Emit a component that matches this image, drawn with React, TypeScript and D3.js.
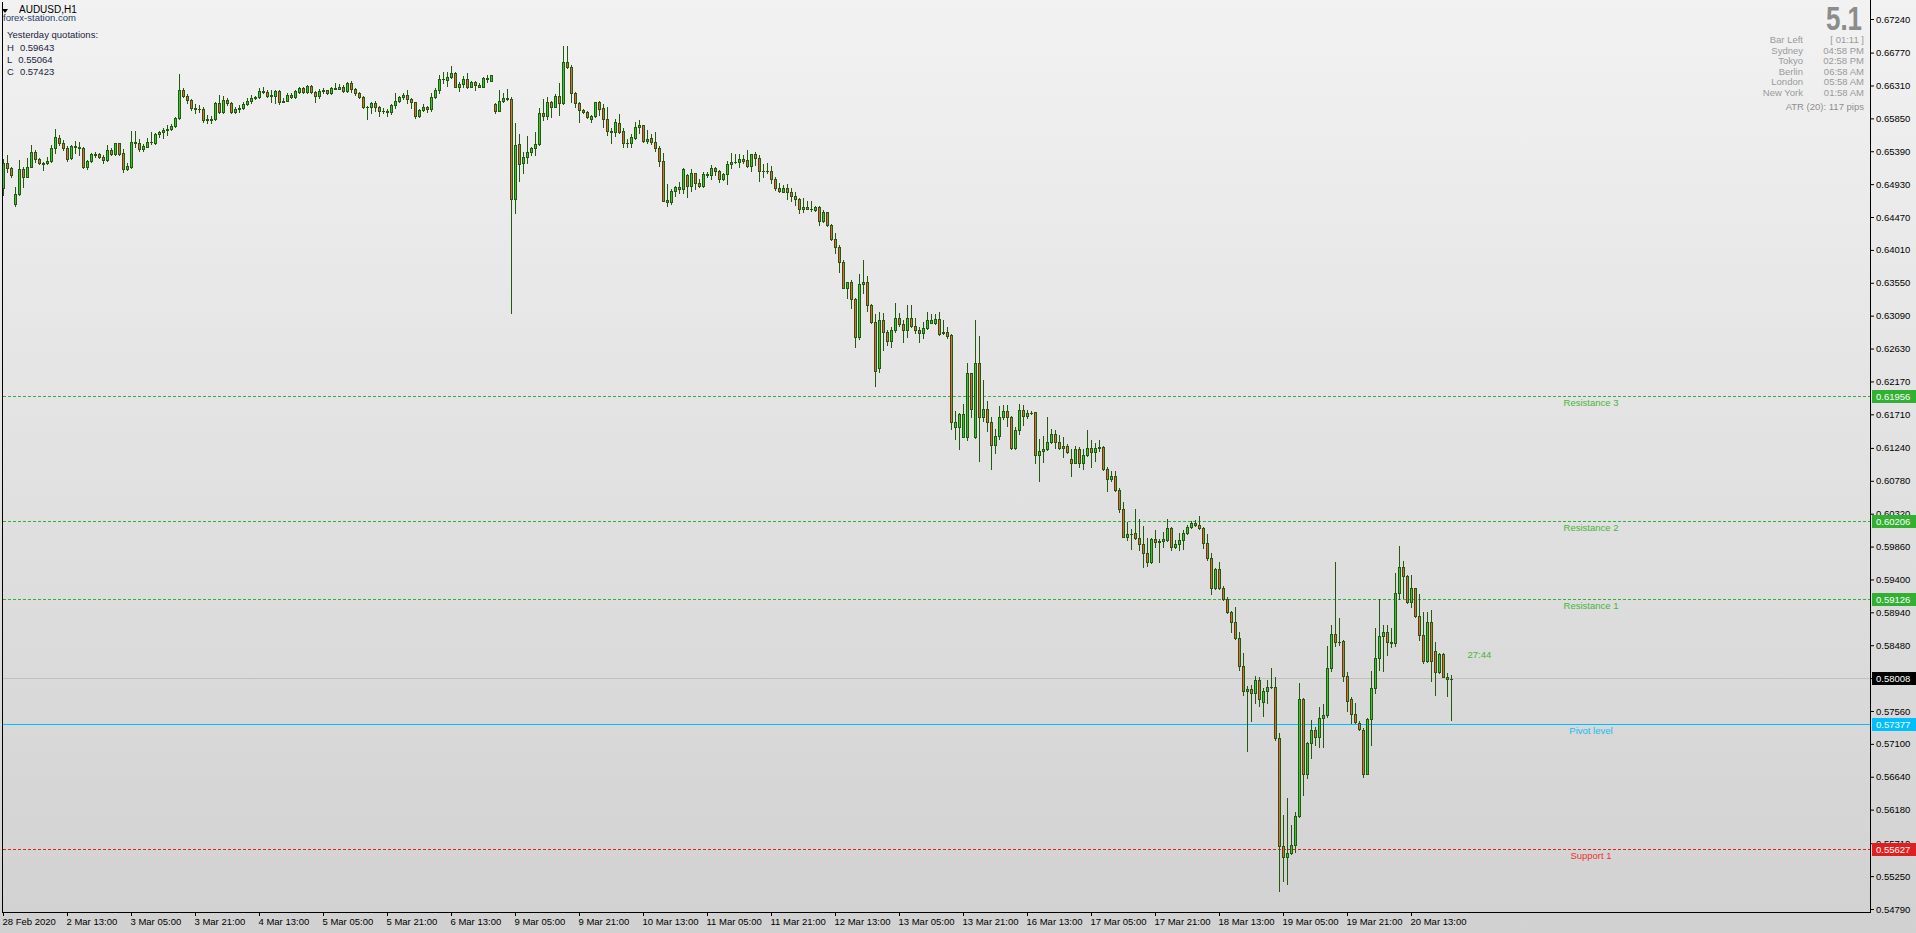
import { useEffect, useRef } from 'react';
import * as d3 from 'd3';

// [open, high, low, close] in price * 1e5
type Candle = [number, number, number, number];

const feb28: Candle[] = [
  [64871, 65281, 64777, 65220], [65220, 65337, 65104, 65151], [65151, 65174, 65025, 65057],
];

const weekMar02: Candle[] = [
  [64652, 64894, 64624, 64787], [64787, 65267, 64777, 65141], [65141, 65174, 64894, 65034], [65034, 65290, 65025, 65174],
  [65174, 65477, 65165, 65374], [65374, 65407, 65244, 65276], [65276, 65290, 65206, 65220], [65220, 65244, 65127, 65215],
  [65220, 65314, 65206, 65253], [65253, 65477, 65244, 65430], [65430, 65701, 65370, 65584], [65570, 65617, 65477, 65500],
  [65500, 65547, 65407, 65430], [65430, 65468, 65258, 65281], [65290, 65477, 65281, 65463], [65463, 65538, 65360, 65454],
  [65454, 65524, 65337, 65430], [65430, 65444, 65151, 65174], [65174, 65267, 65137, 65253], [65253, 65360, 65244, 65346],
  [65346, 65384, 65314, 65340], [65346, 65360, 65290, 65314], [65314, 65337, 65230, 65267], [65267, 65477, 65258, 65407],
  [65407, 65430, 65337, 65351], [65346, 65510, 65337, 65500], [65500, 65510, 65337, 65346], [65360, 65416, 65104, 65137],
  [65137, 65220, 65127, 65183], [65174, 65673, 65151, 65514], [65514, 65673, 65444, 65500], [65500, 65561, 65398, 65416],
  [65416, 65491, 65398, 65463], [65454, 65570, 65444, 65524], [65524, 65654, 65491, 65514], [65500, 65640, 65491, 65631],
  [65631, 65677, 65594, 65663], [65663, 65710, 65570, 65687], [65687, 65757, 65617, 65696], [65696, 65766, 65687, 65747],
  [65747, 65864, 65724, 65850], [65850, 66470, 65841, 66246], [66246, 66270, 66153, 66167], [66167, 66190, 66069, 66106],
  [66106, 66120, 65967, 65990], [65990, 66046, 65920, 65976], [65976, 66036, 65943, 65980], [65985, 66013, 65803, 65827],
  [65827, 65897, 65789, 65836], [65836, 65883, 65780, 65832], [65836, 66083, 65827, 66069], [66069, 66176, 65929, 65943],
  [65943, 66162, 65929, 66106], [66106, 66130, 66036, 66060], [66060, 66083, 65929, 65943], [65943, 66013, 65920, 65976],
  [65976, 66036, 65943, 65999], [65999, 66083, 65976, 66050], [66050, 66130, 66036, 66097], [66097, 66176, 66069, 66139],
  [66139, 66162, 66116, 66144], [66144, 66279, 66130, 66232], [66232, 66293, 66200, 66225], [66225, 66246, 66144, 66162],
  [66162, 66246, 66083, 66176], [66162, 66246, 66069, 66232], [66232, 66246, 66046, 66083], [66083, 66130, 66083, 66097],
  [66097, 66200, 66093, 66176], [66176, 66200, 66130, 66144], [66144, 66246, 66130, 66232], [66225, 66293, 66209, 66270],
  [66270, 66293, 66200, 66214], [66214, 66316, 66200, 66302], [66302, 66316, 66200, 66214], [66214, 66237, 66083, 66162],
  [66162, 66256, 66130, 66237], [66230, 66270, 66200, 66246], [66246, 66246, 66186, 66209], [66209, 66284, 66190, 66270],
  [66270, 66349, 66256, 66265], [66265, 66330, 66256, 66293], [66293, 66316, 66223, 66237], [66237, 66363, 66223, 66349],
  [66349, 66377, 66223, 66260], [66260, 66270, 66176, 66200], [66200, 66223, 66139, 66153], [66153, 66162, 65990, 66013],
  [66013, 66027, 65841, 66010], [66013, 66083, 65920, 66060], [66060, 66093, 65957, 66004], [66004, 66023, 65883, 65948],
  [65948, 65990, 65929, 65957], [65957, 65976, 65888, 65934], [65934, 66051, 65911, 66037], [66037, 66200, 65999, 66097],
  [66097, 66163, 66083, 66144], [66144, 66200, 66125, 66172], [66172, 66247, 66069, 66116], [66116, 66130, 65999, 66074],
  [66074, 66083, 65860, 65888], [65888, 65976, 65874, 65967], [65967, 66046, 65957, 66004], [66004, 66023, 65943, 65976],
  [65976, 66200, 65957, 66144], [66144, 66270, 66130, 66247], [66247, 66456, 66200, 66396], [66396, 66503, 66340, 66400],
  [66385, 66503, 66307, 66424], [66424, 66582, 66410, 66480], [66480, 66494, 66293, 66293], [66293, 66363, 66237, 66326],
  [66326, 66442, 66293, 66396], [66396, 66480, 66270, 66293], [66293, 66377, 66284, 66354], [66354, 66377, 66247, 66316],
  [66316, 66349, 66284, 66293], [66293, 66424, 66284, 66410], [66396, 66456, 66363, 66410], [66377, 66456, 66373, 66452],
];

const weekMar09: Candle[] = [
  [66051, 66069, 65929, 65957], [65957, 66247, 65957, 66093], [66093, 66200, 66083, 66130], [66130, 66256, 66107, 66121],
  [66116, 66144, 63122, 64717], [64717, 65790, 64531, 65472], [65486, 65626, 64978, 65207], [65221, 65384, 65090, 65314],
  [65314, 65603, 65230, 65375], [65375, 65454, 65337, 65435], [65435, 65654, 65337, 65491], [65491, 65990, 65472, 65920],
  [65920, 66116, 65827, 65888], [65888, 66153, 65836, 66074], [66074, 66097, 65874, 66013], [66013, 66191, 66004, 66163],
  [66163, 66340, 65897, 66060], [66060, 66862, 66051, 66634], [66634, 66862, 66550, 66564], [66564, 66596, 66083, 66200],
  [66200, 66214, 66013, 66060], [66060, 66083, 65804, 65967], [65967, 65981, 65920, 65934], [65934, 65957, 65850, 65874],
  [65836, 65897, 65804, 65883], [65883, 66083, 65874, 66074], [66083, 66097, 65897, 65976], [65990, 66051, 65734, 65836],
  [65836, 66004, 65617, 65673], [65673, 65710, 65500, 65664], [65654, 65836, 65603, 65794], [65780, 65911, 65640, 65664],
  [65673, 65710, 65445, 65500], [65500, 65561, 65445, 65500], [65500, 65631, 65454, 65584], [65580, 65804, 65556, 65724],
  [65724, 65827, 65650, 65757], [65752, 65757, 65514, 65538], [65538, 65687, 65510, 65566], [65580, 65631, 65491, 65514],
  [65514, 65654, 65398, 65431], [65431, 65463, 65183, 65258], [65258, 65361, 64698, 64698], [64708, 64932, 64628, 64675],
  [64675, 64857, 64647, 64834], [64834, 64908, 64764, 64885], [64885, 64964, 64810, 64857], [64857, 65160, 64801, 65137],
  [65057, 65067, 64754, 64908], [64908, 65141, 64838, 65081], [65081, 65090, 64862, 64950], [64950, 64997, 64894, 64908],
  [64908, 65104, 64894, 65067], [65067, 65095, 65034, 65062], [65062, 65193, 64997, 65151], [65151, 65165, 65057, 65113],
  [65113, 65127, 64964, 64997], [64997, 65081, 64988, 65067], [65067, 65258, 64932, 65207], [65207, 65361, 65160, 65244],
  [65244, 65351, 65220, 65244], [65244, 65351, 65174, 65276], [65276, 65342, 65220, 65258], [65267, 65407, 65165, 65188],
  [65188, 65351, 65118, 65346], [65346, 65384, 65197, 65290], [65290, 65337, 64978, 65118], [65118, 65211, 65034, 65118],
  [65118, 65220, 65090, 65113], [65113, 65183, 64941, 64997], [64997, 65025, 64847, 64880], [64880, 64941, 64824, 64838],
  [64824, 64917, 64815, 64871], [64871, 64931, 64722, 64815], [64815, 64871, 64698, 64768], [64768, 64815, 64638, 64717],
  [64717, 64731, 64521, 64586], [64586, 64731, 64544, 64614], [64614, 64694, 64577, 64586], [64586, 64694, 64558, 64582],
  [64567, 64624, 64558, 64614], [64614, 64628, 64358, 64409], [64409, 64568, 64395, 64535], [64535, 64544, 64344, 64358],
  [64358, 64372, 64148, 64157], [64157, 64241, 63971, 64055], [64055, 64078, 63705, 63845], [63845, 63868, 63472, 63481],
  [63481, 63565, 63332, 63556], [63556, 63588, 63192, 63318], [63318, 63332, 62656, 62786], [62786, 63668, 62758, 63528],
  [63528, 63868, 63402, 63565], [63565, 63644, 63159, 63234], [63234, 63253, 62992, 62996], [62996, 63113, 62110, 62311],
  [62353, 63145, 62306, 63029], [63029, 63122, 62609, 62856], [62856, 62889, 62679, 62740], [62740, 62936, 62656, 62884],
  [62884, 63262, 62866, 63052], [63052, 63122, 62950, 62968], [62968, 63029, 62726, 62894], [62894, 63239, 62796, 63052],
  [63052, 63239, 62936, 62950], [62950, 63052, 62842, 62884], [62884, 62936, 62726, 62852], [62852, 63006, 62772, 62912],
  [62912, 63136, 62903, 63024], [62992, 63113, 62982, 63024], [62992, 63108, 62973, 63038], [63038, 63136, 62819, 62838],
  [62850, 63029, 62830, 62866], [62866, 62936, 62772, 62805], [62815, 62828, 61504, 61597], [61527, 61756, 61360, 61597],
  [61527, 61733, 61224, 61709], [61397, 61849, 61388, 61709], [61397, 62423, 61350, 62283], [62283, 62292, 61677, 61779],
];

const weekMar16: Candle[] = [
  [61388, 63029, 61374, 62423], [62423, 62805, 61061, 61667], [61667, 62190, 61621, 61779], [61779, 61900, 61481, 61597],
  [61597, 61667, 60945, 61276], [61276, 61504, 61173, 61406], [61406, 61826, 61369, 61667], [61667, 61835, 61649, 61756],
  [61756, 61835, 61551, 61667], [61667, 61691, 61224, 61243], [61243, 61532, 61224, 61485], [61485, 61854, 61439, 61765],
  [61765, 61835, 61560, 61686], [61686, 61770, 61663, 61723], [61723, 61756, 61709, 61733], [61737, 61747, 61033, 61136],
  [61136, 61369, 60781, 61196], [61196, 61406, 61047, 61224], [61224, 61677, 61210, 61322], [61322, 61504, 61313, 61439],
  [61439, 61485, 61243, 61322], [61322, 61415, 61220, 61234], [61266, 61397, 61117, 61234], [61266, 61290, 61173, 61187],
  [61084, 61220, 60851, 61033], [61033, 61271, 61024, 61224], [61224, 61257, 60977, 61024], [61024, 61220, 60945, 61140],
  [61140, 61490, 61126, 61234], [61234, 61350, 60977, 61178], [61178, 61304, 61061, 61243], [61243, 61350, 61201, 61257],
  [61250, 61262, 60930, 60940], [60940, 60977, 60641, 60800], [60800, 60921, 60781, 60846], [60846, 60921, 60641, 60651],
  [60651, 60674, 60347, 60389], [60389, 60487, 59988, 59998], [59998, 60208, 59951, 60030], [60030, 60100, 59821, 60035],
  [60044, 60380, 59965, 59984], [59984, 60240, 59811, 59890], [59890, 60147, 59578, 59765], [59765, 59974, 59587, 59648],
  [59648, 59974, 59625, 59965], [59965, 60091, 59858, 59918], [59918, 59960, 59648, 59937], [59937, 60068, 59849, 59960],
  [59951, 60240, 59942, 60114], [60114, 60128, 59811, 59858], [59858, 59951, 59835, 59890], [59890, 60044, 59811, 59951],
  [59951, 60091, 59821, 60054], [60054, 60161, 60035, 60128], [60128, 60222, 60114, 60184], [60184, 60231, 60147, 60156],
  [60156, 60287, 60100, 60114], [60114, 60128, 59835, 59904], [59904, 60035, 59671, 59695], [59695, 59765, 59196, 59284],
  [59284, 59555, 59270, 59541], [59541, 59648, 59270, 59284], [59284, 59308, 59112, 59126], [59126, 59158, 58925, 58949],
  [58949, 58963, 58669, 58799], [58799, 59018, 58566, 58585], [58585, 58669, 58133, 58193], [58193, 58366, 57783, 57839],
  [57839, 57909, 57004, 57867], [57867, 57923, 57419, 57806], [57806, 58049, 57666, 57993], [57993, 58039, 57634, 57722],
  [57690, 57876, 57494, 57839], [57839, 57993, 57666, 57899], [57899, 58156, 57876, 57895], [57899, 58030, 57153, 57177],
  [57177, 57247, 55046, 55675], [55675, 56104, 55186, 55512], [55512, 56337, 55139, 55568], [55568, 55964, 55554, 55684],
  [55684, 56151, 55591, 56095], [56095, 57946, 56081, 57722], [57722, 57746, 56384, 56678], [56678, 57130, 56617, 57107],
  [57107, 57433, 56897, 57293], [57293, 57340, 57083, 57191], [57191, 57620, 57060, 57456], [57456, 57657, 57060, 57498],
  [57498, 58468, 57480, 58156], [58156, 58762, 58123, 58631], [58631, 59639, 58473, 58520], [58520, 58855, 58482, 58530],
  [58538, 58552, 57983, 58053], [58053, 58105, 57564, 57704], [57727, 57759, 57386, 57512], [57512, 57666, 57386, 57410],
  [57386, 57419, 57293, 57303], [57293, 57317, 56631, 56678], [56678, 57456, 56678, 57442], [57442, 58123, 57083, 57876],
  [57876, 58715, 57806, 58305], [58305, 59121, 58133, 58608], [58608, 58762, 58123, 58669], [58669, 58762, 58342, 58520],
  [58530, 58715, 58459, 58506], [58506, 59485, 58473, 59205], [59205, 59867, 59121, 59578], [59578, 59657, 59135, 59447],
  [59447, 59461, 59065, 59088], [59088, 59461, 59018, 59275], [59275, 59284, 58879, 58893], [58893, 59196, 58552, 58622],
  [58622, 58949, 58235, 58263], [58263, 58939, 58249, 58799], [58799, 58972, 57983, 58263], [58403, 58529, 57783, 58109],
  [58109, 58375, 58086, 58356], [58356, 58366, 58030, 58039], [58039, 58086, 57769, 58002], [58002, 58063, 57433, 58008],
];

const xTickLabels = [
  '28 Feb 2020', '2 Mar 13:00', '3 Mar 05:00', '3 Mar 21:00', '4 Mar 13:00', '5 Mar 05:00', '5 Mar 21:00',
  '6 Mar 13:00', '9 Mar 05:00', '9 Mar 21:00', '10 Mar 13:00', '11 Mar 05:00', '11 Mar 21:00', '12 Mar 13:00',
  '13 Mar 05:00', '13 Mar 21:00', '16 Mar 13:00', '17 Mar 05:00', '17 Mar 21:00', '18 Mar 13:00', '19 Mar 05:00',
  '19 Mar 21:00', '20 Mar 13:00',
];
const barsPerXTick = 16;

const yTicks = [
  0.67240, 0.66770, 0.66310, 0.65850, 0.65390, 0.64930, 0.64470, 0.64010, 0.63550, 0.63090, 0.62630, 0.62170,
  0.61710, 0.61240, 0.60780, 0.60320, 0.59860, 0.59400, 0.58940, 0.58480, 0.58020, 0.57560, 0.57100, 0.56640,
  0.56180, 0.55710, 0.55250, 0.54790,
];

const levelNames = ['Resistance 3', 'Resistance 2', 'Resistance 1', 'Pivot level', 'Support 1'];
const levelValues = [0.61956, 0.60206, 0.59126, 0.57377, 0.55627];
const currentPrice = 0.58008;
const countdown = '27:44';

const symbolTitle = 'AUDUSD,H1';
const brand = 'forex-station.com';
const yesterdayTitle = 'Yesterday quotations:';
const yesterdayLabels = ['H', 'L', 'C'];
const yesterdayValues = ['0.59643', '0.55064', '0.57423'];

const spreadValue = '5.1';
const sessionNames = ['Bar Left', 'Sydney', 'Tokyo', 'Berlin', 'London', 'New York'];
const sessionTimes = ['[ 01:11 ]', '04:58 PM', '02:58 PM', '06:58 AM', '05:58 AM', '01:58 AM'];
const atrText = 'ATR (20): 117 pips';

const W = 1916;
const H = 933;
const FONT = '"Liberation Sans", Arial, sans-serif';

export default function App() {
  const svgRef = useRef<SVGSVGElement>(null);

  useEffect(() => {
    document.body.style.margin = '0';
    if (!svgRef.current) return;
    const svg = d3.select(svgRef.current);
    svg.selectAll('*').remove();

    const candles = [...feb28, ...weekMar02, ...weekMar09, ...weekMar16].map(([o, h, l, c], i) => ({
      i, o: o / 1e5, h: h / 1e5, l: l / 1e5, c: c / 1e5,
    }));

    const axisX = 1870.5;
    const axisY = 912.5;

    const x = d3.scaleBand<number>()
      .domain(d3.range(candles.length))
      .range([1.5, 1.5 + 4 * candles.length]);
    const y = d3.scaleLinear().domain([0.54790, 0.67240]).range([909, 19]);
    const cx = (i: number) => (x(i) || 0) + x.bandwidth() / 2;

    // background gradient
    const defs = svg.append('defs');
    const grad = defs.append('linearGradient').attr('id', 'bg').attr('x1', 0).attr('y1', 0).attr('x2', 0).attr('y2', 1);
    grad.append('stop').attr('offset', '0%').attr('stop-color', '#f2f2f2');
    grad.append('stop').attr('offset', '100%').attr('stop-color', '#d1d1d1');
    svg.append('rect').attr('width', W).attr('height', H).attr('fill', 'url(#bg)');

    // horizontal levels
    const levelColor = (name: string) =>
      name.startsWith('Resistance') ? '#33b033' : name.startsWith('Pivot') ? '#00bfff' : '#e02020';
    const levelY = (v: number) => Math.floor(y(v)) + 0.5;

    svg.append('line')
      .attr('x1', 3).attr('x2', axisX).attr('y1', levelY(currentPrice)).attr('y2', levelY(currentPrice))
      .attr('stroke', '#bfbfbf');

    svg.selectAll('.level')
      .data(levelNames)
      .enter()
      .append('line')
      .attr('class', 'level')
      .attr('x1', 3).attr('x2', axisX)
      .attr('y1', (_, k) => levelY(levelValues[k]))
      .attr('y2', (_, k) => levelY(levelValues[k]))
      .attr('stroke', d => levelColor(d))
      .attr('stroke-dasharray', d => (d.startsWith('Pivot') ? null : '3,2'));

    // candles
    const outline = '#235a10';
    const g = svg.append('g');
    g.selectAll('.wick')
      .data(candles)
      .enter()
      .append('line')
      .attr('class', 'wick')
      .attr('x1', d => cx(d.i)).attr('x2', d => cx(d.i))
      .attr('y1', d => Math.round(y(Math.max(d.h, d.o, d.c))))
      .attr('y2', d => Math.round(y(Math.min(d.l, d.o, d.c))) + 1)
      .attr('stroke', outline);

    candles.forEach(d => {
      const top = Math.round(y(Math.max(d.o, d.c)));
      const bot = Math.round(y(Math.min(d.o, d.c)));
      if (bot - top < 1) {
        g.append('line')
          .attr('x1', cx(d.i) - 1.5).attr('x2', cx(d.i) + 1.5)
          .attr('y1', top + 0.5).attr('y2', top + 0.5)
          .attr('stroke', outline);
      } else {
        g.append('rect')
          .attr('x', cx(d.i) - 1).attr('y', top + 0.5)
          .attr('width', 2).attr('height', bot - top)
          .attr('fill', d.c >= d.o ? '#36c636' : '#f0603c')
          .attr('stroke', outline);
      }
    });

    // level captions
    svg.selectAll('.level-label')
      .data(levelNames)
      .enter()
      .append('text')
      .attr('class', 'level-label')
      .attr('x', 1591)
      .attr('y', (_, k) => levelY(levelValues[k]) + 9.5)
      .attr('text-anchor', 'middle')
      .attr('font-family', FONT).attr('font-size', 9.5)
      .attr('fill', d => (d.startsWith('Resistance') ? '#48b43a' : d.startsWith('Pivot') ? '#10bff0' : '#f03030'))
      .text(d => d);

    svg.append('text')
      .attr('x', cx(candles.length - 1) + 16)
      .attr('y', y(currentPrice) - 21)
      .attr('font-family', FONT).attr('font-size', 9.5)
      .attr('fill', '#48b43a')
      .text(countdown);

    // frame
    svg.append('line').attr('x1', 2.5).attr('x2', 2.5).attr('y1', 2).attr('y2', axisY).attr('stroke', '#000');
    svg.append('line').attr('x1', 2).attr('x2', axisX + 0.5).attr('y1', axisY).attr('y2', axisY).attr('stroke', '#000');
    svg.append('line').attr('x1', axisX).attr('x2', axisX).attr('y1', 0).attr('y2', axisY).attr('stroke', '#000');

    // price axis
    const yAxis = svg.append('g')
      .attr('transform', `translate(${axisX - 0.5},0)`)
      .call(d3.axisRight(y).tickValues(yTicks).tickSize(4).tickPadding(2).tickFormat(d3.format('.5f')));
    yAxis.select('.domain').remove();
    yAxis.selectAll('line').attr('stroke', '#000');
    yAxis.selectAll('text').attr('font-family', FONT).attr('font-size', 9.5).attr('fill', '#000');

    // time axis
    const tickIdx = xTickLabels.map((_, k) => k * barsPerXTick);
    const xAxis = svg.append('g')
      .attr('transform', `translate(0,${axisY - 0.5})`)
      .call(d3.axisBottom(x).tickValues(tickIdx).tickSize(4).tickPadding(2)
        .tickFormat(d => xTickLabels[Math.round(+d / barsPerXTick)]));
    xAxis.select('.domain').remove();
    xAxis.selectAll('line').attr('stroke', '#000');
    xAxis.selectAll('text')
      .attr('text-anchor', 'start')
      .attr('x', -1)
      .attr('font-family', FONT).attr('font-size', 9.5).attr('fill', '#000');

    // price tags on axis
    const tags = [
      ...levelNames.map((n, k) => ({ v: levelValues[k], fill: n.startsWith('Resistance') ? '#32b032' : levelColor(n) })),
      { v: currentPrice, fill: '#000' },
    ];
    tags.forEach(t => {
      const cy = Math.floor(y(t.v));
      svg.append('rect')
        .attr('x', 1872).attr('y', cy - 6).attr('width', 44).attr('height', 13)
        .attr('fill', t.fill);
      svg.append('text')
        .attr('x', 1876).attr('y', cy + 4)
        .attr('font-family', FONT).attr('font-size', 9.5)
        .attr('fill', '#fff')
        .text(d3.format('.5f')(t.v));
    });

    // top-left info
    svg.append('path').attr('d', 'M2,9 L8,9 L5,13 Z').attr('fill', '#000');
    svg.append('text').attr('x', 19).attr('y', 13).attr('font-family', FONT).attr('font-size', 10).attr('fill', '#000').text(symbolTitle);
    svg.append('text').attr('x', 3).attr('y', 21).attr('font-family', FONT).attr('font-size', 9.5).attr('fill', '#1f3c6a').text(brand);
    svg.append('text').attr('x', 7).attr('y', 38).attr('font-family', FONT).attr('font-size', 9.5).attr('fill', '#1c2440').text(yesterdayTitle);
    yesterdayLabels.forEach((lab, k) => {
      const t = svg.append('text').attr('x', 7).attr('y', 51 + k * 12)
        .attr('font-family', FONT).attr('font-size', 9.5).attr('fill', '#1c2440');
      t.append('tspan').text(lab);
      t.append('tspan').attr('dx', 6).text(yesterdayValues[k]);
    });

    // top-right panel
    svg.append('text')
      .attr('x', 1862).attr('y', 30)
      .attr('text-anchor', 'end')
      .attr('font-family', FONT).attr('font-size', 33).attr('font-weight', 'bold')
      .attr('textLength', 36).attr('lengthAdjust', 'spacingAndGlyphs')
      .attr('fill', '#8c8c8c')
      .text(spreadValue);

    sessionNames.forEach((name, k) => {
      const by = 43 + k * 10.6;
      svg.append('text').attr('x', 1803).attr('y', by).attr('text-anchor', 'end')
        .attr('font-family', FONT).attr('font-size', 9.5).attr('fill', '#9a9a9a').text(name);
      svg.append('text').attr('x', 1864).attr('y', by).attr('text-anchor', 'end')
        .attr('font-family', FONT).attr('font-size', 9.5).attr('fill', '#9a9a9a').text(sessionTimes[k]);
    });
    svg.append('text').attr('x', 1864).attr('y', 109.5).attr('text-anchor', 'end')
      .attr('font-family', FONT).attr('font-size', 9.5).attr('fill', '#8e8e8e').text(atrText);
  }, []);

  return <svg ref={svgRef} width={W} height={H} style={{ display: 'block' }} />;
}
